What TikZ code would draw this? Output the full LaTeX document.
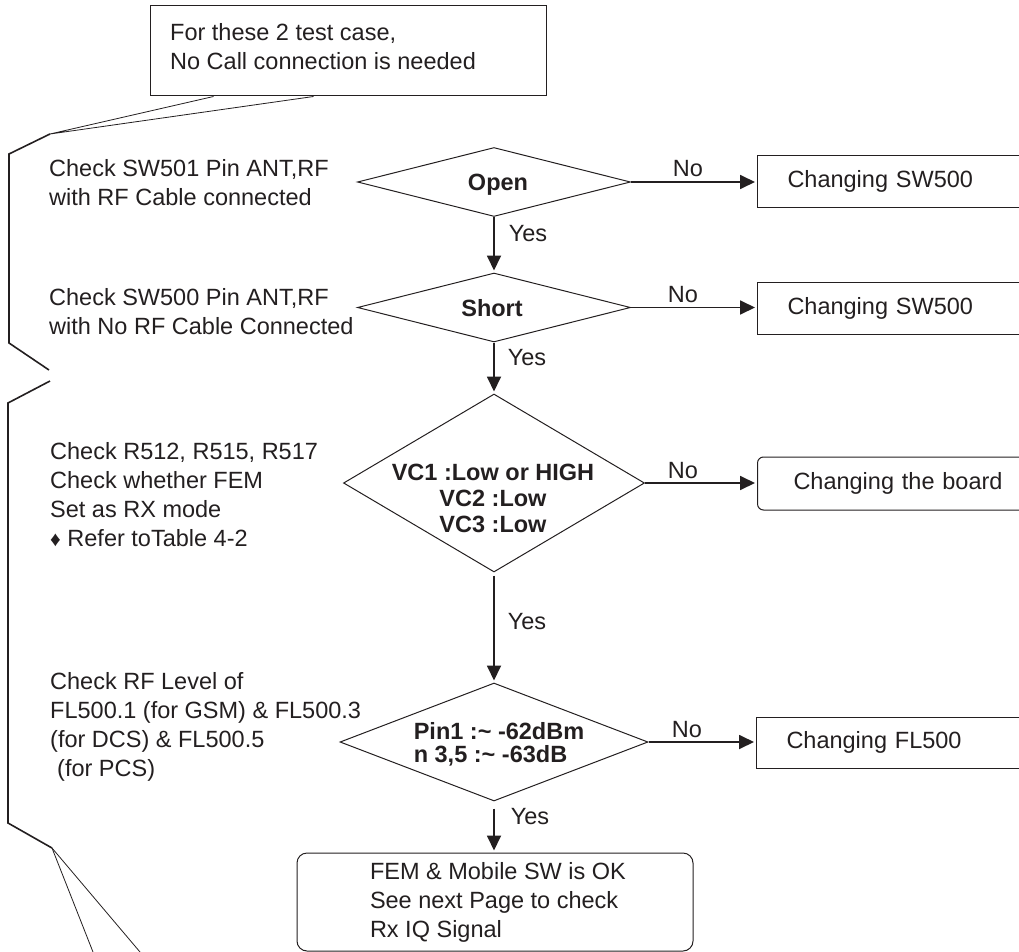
\documentclass[tikz,border=0pt]{standalone}
\usepackage{fontspec}
\setmainfont{Liberation Sans}
\usetikzlibrary{shapes.geometric,arrows.meta,calc}
\definecolor{ink}{RGB}{35,31,32}
\begin{document}
\begin{tikzpicture}[x=1pt,y=-1pt,
  every node/.style={font=\fontsize{23.5}{29}\selectfont, text=ink},
  txt/.style={align=left, inner sep=0pt, anchor=west},
  lab/.style={inner sep=0pt},
  dia/.style={diamond, draw=ink, line width=1pt, inner sep=0pt},
  boldtxt/.style={font=\fontsize{23.5}{26}\selectfont\bfseries, inner sep=0pt},
  box/.style={draw=ink, line width=1pt, anchor=west, text width=223pt, inner xsep=30pt, inner ysep=0pt, align=left},
  rbox/.style={box, rounded corners=6pt, text width=211pt, inner xsep=36pt},
  endbox/.style={draw=ink, line width=1pt, rounded corners=10pt, inner sep=0pt, minimum width=396pt, minimum height=98pt},
  note/.style={draw=ink, line width=1pt, inner sep=0pt, minimum width=396pt, minimum height=90pt},
  arr/.style={draw=ink, line width=1.8pt, -{Triangle[length=15pt,width=14pt]}, shorten >=2pt},
  brace/.style={draw=ink, line width=1.6pt, line join=miter},
  thin/.style={draw=ink, line width=0.8pt}]
\useasboundingbox (0,0) rectangle (1019,952);
\clip (0,0) rectangle (1019,952);

% callout note
\node[note] (nt) at (348,51) {};
\node[txt] (ntext) at (170,47) {For these 2 test case,\\No Call connection is needed};
\coordinate (tip) at (50,134);
\coordinate (pa) at ($(nt.south west)+(64,0)$);
\coordinate (pb) at ($(nt.south west)+(164,0)$);
\draw[thin] (pa) -- (tip) -- (pb);

% brace
\coordinate (b1a) at (9,154);
\coordinate (b1b) at (9,343);
\coordinate (b1c) at (49,370);
\coordinate (b2a) at (50,381);
\coordinate (b2b) at (8,403);
\coordinate (b2c) at (8,823);
\coordinate (tip2) at (52,848);
\coordinate (e1) at (93,952);
\coordinate (e2) at (140,952);
\draw[brace] (tip) -- (b1a) -- (b1b) -- (b1c);
\draw[brace] (b2a) -- (b2b) -- (b2c) -- (tip2);
\draw[thin] (tip2) -- (e1);
\draw[thin] (tip2) -- (e2);

% left texts
\node[txt] (t1) at (49,183) {Check SW501 Pin ANT,RF\\with RF Cable connected};
\node[txt] (t2) at (49,311.5) {Check SW500 Pin ANT,RF\\with No RF Cable Connected};
\node[txt] (t3) at (50,495) {Check R512, R515, R517\\Check whether FEM\\Set as RX mode\\{\fontsize{21}{21}\selectfont ♦}~Refer toTable 4-2};
\node[txt] (t4) at (50,726.5) {Check RF Level of\\FL500.1 (for GSM) \& FL500.3\\(for DCS) \& FL500.5\\\hspace*{7pt}(for PCS)};

% decisions
\node[dia, minimum width=273pt, minimum height=69pt] (d1) at (494,182) {};
\node[boldtxt] (d1t) at (498,185) {Open};
\node[dia, minimum width=273pt, minimum height=69pt] (d2) at (494,307.5) {};
\node[boldtxt] (d2t) at (492,308) {Short};
\node[dia, minimum width=301pt, minimum height=178pt] (d3) at (494,483) {};
\node[boldtxt, align=center] (d3t) at (493,498) {VC1 :Low or HIGH\\VC2 :Low\\VC3 :Low};
\node[dia, minimum width=308pt, minimum height=118pt] (d4) at (494,742) {};
\node[boldtxt, align=left, font=\fontsize{23.5}{23}\selectfont\bfseries] (d4t) at (499,744) {Pin1 :\textasciitilde{} -62dBm\\n 3,5 :\textasciitilde{} -63dB};

% outcome boxes
\node[box, minimum height=51pt] (r1) at (757,181.5) {Changing SW500};
\node[box, minimum height=52pt] (r2) at (757,308) {Changing SW500};
\node[rbox, minimum height=53pt] (r3) at (757,483.5) {Changing the board};
\node[box, minimum height=51pt] (r4) at (756,742.5) {Changing FL500};
\node[endbox] (fin) at (495,902) {\hspace*{73pt}\parbox{323pt}{\raggedright FEM \& Mobile SW is OK\\See next Page to check\\Rx IQ Signal}};

% connectors
\draw[arr] (d1.east) -- (d1.east -| r1.west);
\draw[arr] (d2.east) -- (d2.east -| r2.west);
\draw[arr] (d3.east) -- (d3.east -| r3.west);
\draw[arr] (d4.east) -- (d4.east -| r4.west);
\draw[arr] (d1.south) -- (d2.north);
\draw[arr] (d2.south) -- (d3.north);
\draw[arr, shorten <=3pt] (d3.south) -- (d4.north);
\draw[arr, shorten <=7pt] (d4.south) -- (fin.north -| d4.south);

% labels
\node[lab] (n1) at (688,169) {No};
\node[lab] (n2) at (683,295) {No};
\node[lab] (n3) at (683,471) {No};
\node[lab] (n4) at (687,730) {No};
\node[lab] (y1) at (528,234) {Yes};
\node[lab] (y2) at (527,358) {Yes};
\node[lab] (y3) at (527,622) {Yes};
\node[lab] (y4) at (530,817) {Yes};
\end{tikzpicture}
\end{document}
